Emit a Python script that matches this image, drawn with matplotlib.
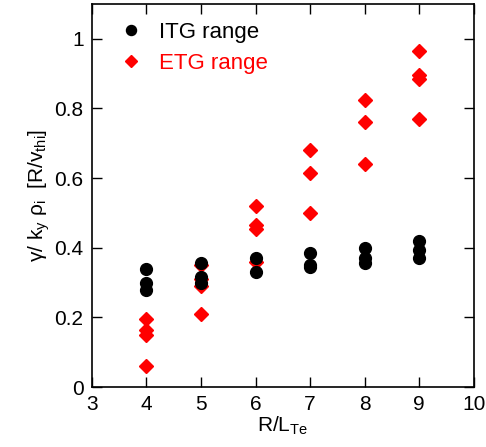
import numpy as np
import matplotlib.pyplot as plt

plt.rcParams['font.family'] = ['Liberation Sans', 'DejaVu Sans']
plt.rcParams['mathtext.fontset'] = 'custom'
plt.rcParams['mathtext.rm'] = 'Liberation Sans'
plt.rcParams['mathtext.it'] = 'Liberation Sans'

# ITG range (black circles)
itg_x = [4, 4, 4, 5, 5, 5, 6, 6, 7, 7, 7, 8, 8, 8, 9, 9, 9]
itg_y = [0.34, 0.30, 0.28, 0.355, 0.315, 0.30, 0.37, 0.33, 0.385, 0.35, 0.345,
         0.40, 0.37, 0.355, 0.42, 0.395, 0.37]

# ETG range (red diamonds)
etg_x = [4, 4, 4, 4, 5, 5, 5, 5, 6, 6, 6, 6, 7, 7, 7, 8, 8, 8, 9, 9, 9, 9]
etg_y = [0.195, 0.165, 0.15, 0.06, 0.35, 0.31, 0.29, 0.21, 0.52, 0.465, 0.455, 0.36,
         0.68, 0.615, 0.50, 0.825, 0.76, 0.64, 0.965, 0.895, 0.885, 0.77]

fig = plt.figure(figsize=(4.86, 4.47), dpi=100)
ax = fig.add_axes([0.189, 0.134, 0.786, 0.857])

ax.plot(itg_x, itg_y, 'o', color='black', ms=8.5, ls='none', label='ITG range', zorder=3)
ax.plot(etg_x, etg_y, 'D', color='red', ms=7.5, mec='red', ls='none', label='ETG range', zorder=2)

ax.set_xlim(3, 10)
ax.set_ylim(0, 1.1)
ax.set_xticks(range(3, 11))
ax.set_yticks([0, 0.2, 0.4, 0.6, 0.8, 1])
ax.set_yticklabels(['0', '0.2', '0.4', '0.6', '0.8', '1'])
ax.tick_params(direction='in', top=True, right=True, length=7, width=1,
               labelsize=15, pad=6)
for s in ax.spines.values():
    s.set_linewidth(1.2)

ax.set_xlabel(r'R/L$_{\rm Te}$', fontsize=15, labelpad=0)
ax.set_ylabel(r'$\gamma$/ k$_{\rm y}$ $\rho_{\rm i}$  [R/v$_{\rm thi}$]', fontsize=15, labelpad=2)

leg = ax.legend(loc='upper left', frameon=False, fontsize=16, handlelength=1.0,
                handletextpad=0.75, borderaxespad=0, bbox_to_anchor=(0.05, 0.976),
                labelspacing=0.45, markerscale=0.85)
leg.get_texts()[1].set_color('red')

fig.savefig('out.png', dpi=100)
